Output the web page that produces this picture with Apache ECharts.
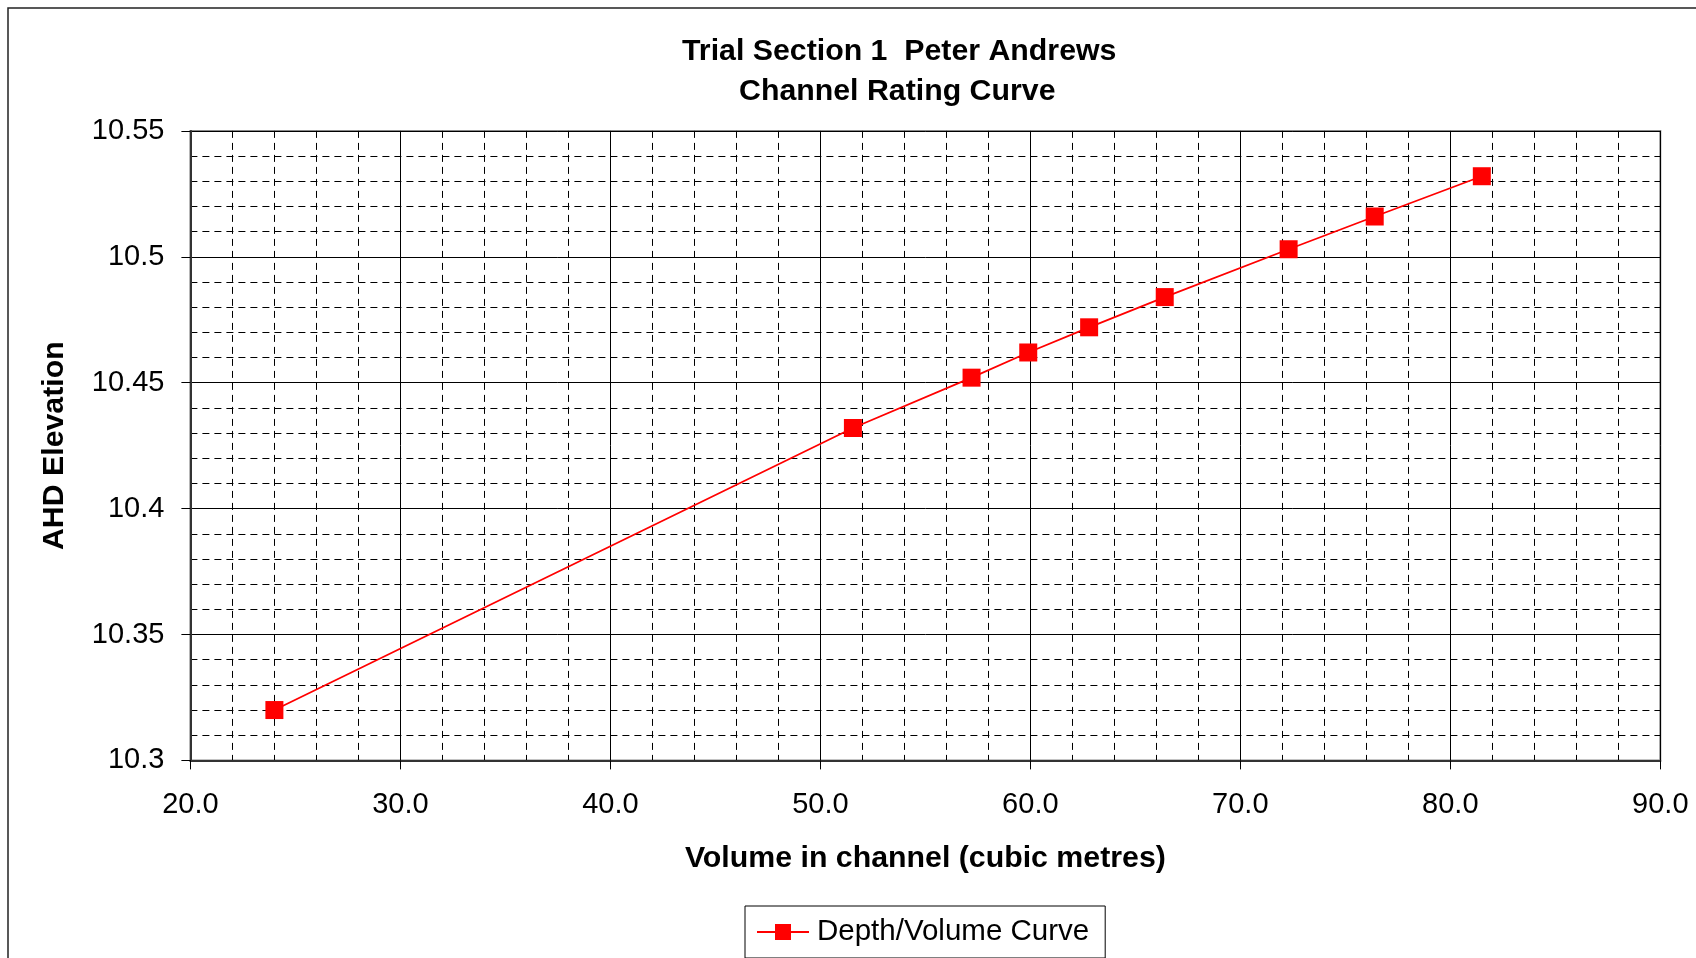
<!DOCTYPE html>
<html>
<head>
<meta charset="utf-8">
<script src="https://cdn.jsdelivr.net/npm/echarts@6/dist/echarts.min.js"></script>
<style>
html,body{margin:0;padding:0;background:#fff;}
#chart{width:1696px;height:958px;}
</style>
</head>
<body>
<div id="chart"></div>
<script>
var titleLine1 = 'Trial Section 1  Peter Andrews';
var titleLine2 = 'Channel Rating Curve';
var xAxisName = 'Volume in channel (cubic metres)';
var yAxisName = 'AHD Elevation';
var seriesName = 'Depth/Volume Curve';
var volumes = [24.0, 51.55, 57.2, 59.9, 62.8, 66.4, 72.3, 76.4, 81.5];
var elevations = [10.320, 10.432, 10.452, 10.462, 10.472, 10.484, 10.503, 10.516, 10.532];
var xMin = 20, xMax = 90, xStep = 10;
var yMin = 10.3, yMax = 10.55, yStep = 0.05;

var data = volumes.map(function (v, i) { return [v, elevations[i]]; });
var font = 'Liberation Sans, Arial, sans-serif';
var chart = echarts.init(document.getElementById('chart'), null, {renderer: 'canvas'});
chart.setOption({
  backgroundColor: '#fff',
  animation: false,
  title: [
    {text: titleLine1, left: 682, top: 37, padding: 0,
     textStyle: {fontFamily: font, fontSize: 30.3, fontWeight: 'bold', color: '#000', lineHeight: 30}},
    {text: titleLine2, left: 739, top: 77, padding: 0,
     textStyle: {fontFamily: font, fontSize: 30.3, fontWeight: 'bold', color: '#000', lineHeight: 30}}
  ],
  graphic: [{
    type: 'rect', z: -1, silent: true,
    shape: {x: 8, y: 8, width: 1700, height: 960},
    style: {fill: 'none', stroke: '#222', lineWidth: 1.5}
  }],
  legend: {
    left: 745, top: 906,
    padding: [11, 16, 11, 11],
    borderColor: '#000', borderWidth: 1,
    itemWidth: 52, itemHeight: 20, itemGap: 10,
    itemStyle: {color: '#ff0000'},
    textStyle: {fontFamily: font, fontSize: 29.5, color: '#000', padding: [0,0,0,3]},
    data: [seriesName]
  },
  grid: {
    left: 190.4, right: 35.7, top: 130.9, bottom: 197.6,
    show: true, borderColor: '#888', borderWidth: 2, backgroundColor: 'transparent'
  },
  xAxis: {
    type: 'value', min: xMin, max: xMax, interval: xStep,
    name: xAxisName, nameLocation: 'middle', nameGap: 83,
    nameTextStyle: {fontFamily: font, fontSize: 30.3, fontWeight: 'bold', color: '#000'},
    axisLine: {show: true, lineStyle: {color: '#333', width: 2}},
    axisTick: {show: true, length: 9, inside: false, lineStyle: {color: '#000', width: 1}},
    axisLabel: {fontFamily: font, fontSize: 29, color: '#000', margin: 30,
      formatter: function (v) { return v.toFixed(1); }},
    splitLine: {show: true, lineStyle: {color: '#000', width: 1, type: 'solid'}},
    minorTick: {show: false, splitNumber: 5},
    minorSplitLine: {show: true, lineStyle: {color: '#000', width: 1, type: [7, 5]}}
  },
  yAxis: {
    type: 'value', min: yMin, max: yMax, interval: yStep,
    name: yAxisName, nameLocation: 'middle', nameGap: 121, nameRotate: 90,
    nameTextStyle: {fontFamily: font, fontSize: 30.3, fontWeight: 'bold', color: '#000'},
    axisLine: {show: true, lineStyle: {color: '#333', width: 2}},
    axisTick: {show: true, length: 9, inside: false, lineStyle: {color: '#000', width: 1}},
    axisLabel: {fontFamily: font, fontSize: 29, color: '#000', margin: 26,
      formatter: function (v) { return String(parseFloat(v.toFixed(2))); }},
    splitLine: {show: true, lineStyle: {color: '#000', width: 1, type: 'solid'}},
    minorTick: {show: false, splitNumber: 5},
    minorSplitLine: {show: true, lineStyle: {color: '#000', width: 1, type: [7, 5]}}
  },
  series: [{
    name: seriesName, type: 'line', data: data,
    symbol: 'rect', symbolSize: 18,
    lineStyle: {color: '#ff0000', width: 1.8},
    itemStyle: {color: '#ff0000'},
    z: 5
  }]
});
</script>
</body>
</html>
